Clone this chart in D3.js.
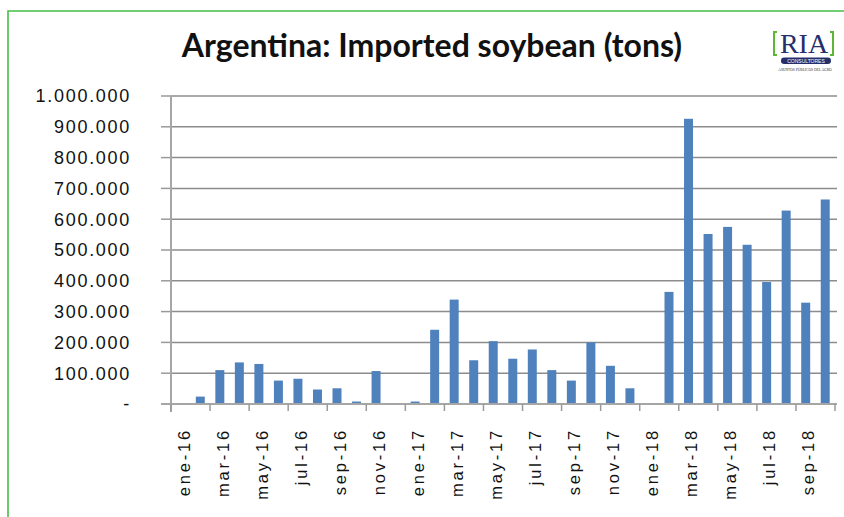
<!DOCTYPE html>
<html>
<head>
<meta charset="utf-8">
<script src="https://cdn.jsdelivr.net/npm/d3@7"></script>
<style>
  html, body { margin: 0; padding: 0; background: #fff; }
  svg { display: block; }
</style>
</head>
<body>
<svg id="chart" width="844" height="517"></svg>
<script>
// ---- data ----
const months = [
  "ene-16","feb-16","mar-16","abr-16","may-16","jun-16","jul-16","ago-16","sep-16","oct-16","nov-16","dic-16",
  "ene-17","feb-17","mar-17","abr-17","may-17","jun-17","jul-17","ago-17","sep-17","oct-17","nov-17","dic-17",
  "ene-18","feb-18","mar-18","abr-18","may-18","jun-18","jul-18","ago-18","sep-18","oct-18"
];
const tons = [
  0, 24000, 110000, 135000, 130000, 76000, 82000, 47000, 51000, 8000, 107000, 0,
  8000, 241000, 339000, 142000, 204000, 147000, 177000, 110000, 76000, 200000, 124000, 51000,
  0, 364000, 926000, 552000, 575000, 517000, 396000, 628000, 329000, 664000
];
const yTicks = [0, 100000, 200000, 300000, 400000, 500000, 600000, 700000, 800000, 900000, 1000000];
const xTickLabels = ["ene-16","mar-16","may-16","jul-16","sep-16","nov-16","ene-17","mar-17","may-17","jul-17","sep-17","nov-17","ene-18","mar-18","may-18","jul-18","sep-18"];
const title = "Argentina: Imported soybean (tons)";

(function () {
// ---- layout ----
const svg = d3.select("#chart");
const pLeft = 171, pRight = 835, pTop = 96, pBottom = 404;

// green frame
svg.append("path")
  .attr("d", `M8,517 L8,11 L844,11`)
  .attr("fill", "none").attr("stroke", "#46bf46").attr("stroke-width", 1.6);

const x = d3.scaleBand().domain(months).range([pLeft, pRight]).paddingInner(0.54).paddingOuter(0.27);
const y = d3.scaleLinear().domain([0, 1000000]).range([pBottom, pTop]);

const fmt = v => v === 0 ? "-" : d3.format(",")(v).replace(/,/g, ".");

// gridlines
svg.append("g").selectAll("line").data(yTicks.filter(d => d > 0)).join("line")
  .attr("x1", pLeft).attr("x2", 837)
  .attr("y1", d => y(d)).attr("y2", d => y(d))
  .attr("stroke", "#8c8c8c").attr("stroke-width", 1.5);

// y tick marks
svg.append("g").selectAll("line").data(yTicks).join("line")
  .attr("x1", 161).attr("x2", pLeft)
  .attr("y1", d => y(d)).attr("y2", d => y(d))
  .attr("stroke", "#9a9a9a").attr("stroke-width", 1.5);

// y labels
svg.append("g").selectAll("text").data(yTicks).join("text")
  .attr("x", 131).attr("y", d => y(d)).attr("dy", "0.36em")
  .attr("text-anchor", "end")
  .attr("font-family", "Liberation Sans, Arial, sans-serif")
  .attr("font-size", 18).attr("letter-spacing", 1.7)
  .attr("fill", "#111")
  .text(fmt);

// bars
svg.append("g").selectAll("rect").data(months).join("rect")
  .attr("x", d => x(d)).attr("width", x.bandwidth())
  .attr("y", (d, i) => y(tons[i])).attr("height", (d, i) => pBottom - y(tons[i]))
  .attr("fill", "#4f81bd");

// y axis line
svg.append("line").attr("x1", pLeft).attr("x2", pLeft).attr("y1", pTop).attr("y2", 412)
  .attr("stroke", "#a6a6a6").attr("stroke-width", 2);
// x axis line
svg.append("line").attr("x1", 161).attr("x2", 837).attr("y1", pBottom).attr("y2", pBottom)
  .attr("stroke", "#a6a6a6").attr("stroke-width", 2);

// x tick marks at every other category boundary
const step = (pRight - pLeft) / months.length;
const tickIdx = d3.range(0, months.length + 1, 2);
svg.append("g").selectAll("line").data(tickIdx).join("line")
  .attr("x1", i => pLeft + i * step).attr("x2", i => pLeft + i * step)
  .attr("y1", pBottom).attr("y2", 411)
  .attr("stroke", "#9a9a9a").attr("stroke-width", 1.5);

// x labels
svg.append("g").selectAll("text").data(xTickLabels).join("text")
  .attr("transform", d => `translate(${x(d) + x.bandwidth() / 2 + 3},428) rotate(-90)`)
  .attr("dy", "0.35em")
  .attr("text-anchor", "end")
  .attr("font-family", "Liberation Sans, Arial, sans-serif")
  .attr("font-size", 16.5).attr("letter-spacing", 2.8)
  .attr("fill", "#111")
  .text(d => d);

// title
svg.append("text")
  .attr("x", 432).attr("y", 57)
  .attr("text-anchor", "middle")
  .attr("font-family", "Lato, Carlito, sans-serif")
  .attr("font-weight", "bold")
  .attr("font-size", 32)
  .attr("fill", "#111")
  .text(title);

// logo
const logo = svg.append("g");
logo.append("path").attr("d", "M777,32 L774,32 L774,55 L777,55").attr("fill", "none").attr("stroke", "#5cb833").attr("stroke-width", 2);
logo.append("path").attr("d", "M830,32 L833,32 L833,55 L830,55").attr("fill", "none").attr("stroke", "#5cb833").attr("stroke-width", 2);
logo.append("text").attr("x", 804).attr("y", 53).attr("text-anchor", "middle")
  .attr("font-family", "Liberation Serif, Times New Roman, serif").attr("font-size", 28)
  .attr("fill", "#25306b").text("RIA");
logo.append("rect").attr("x", 781).attr("y", 57.5).attr("width", 50).attr("height", 6.5).attr("rx", 3.2)
  .attr("fill", "#25306b");
logo.append("text").attr("x", 806).attr("y", 62.6).attr("text-anchor", "middle")
  .attr("font-family", "Liberation Sans, Arial, sans-serif").attr("font-size", 5)
  .attr("fill", "#fff").text("CONSULTORES");
logo.append("text").attr("x", 805).attr("y", 71).attr("text-anchor", "middle")
  .attr("font-family", "Liberation Serif, serif").attr("font-size", 3.6)
  .attr("fill", "#333").text("ASUNTOS PÚBLICOS DEL AGRO");
})();
</script>
</body>
</html>
